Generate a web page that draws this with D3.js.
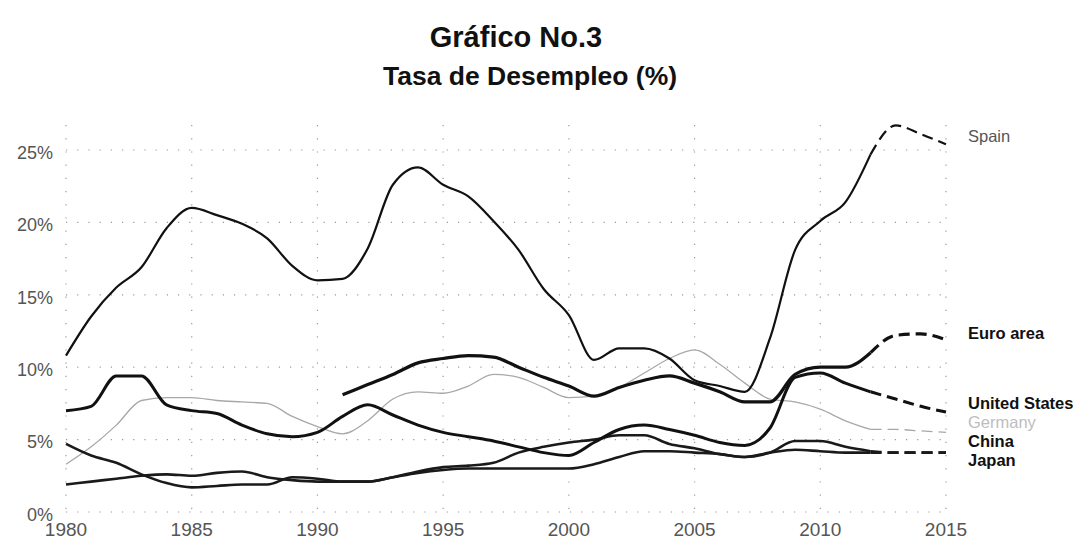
<!DOCTYPE html>
<html>
<head>
<meta charset="utf-8">
<script src="https://cdn.jsdelivr.net/npm/d3@7"></script>
<style>
  body { margin: 0; background: #fff; }
  svg { display: block; font-family: "Liberation Sans", Arial, sans-serif; }
</style>
</head>
<body>
<div id="chart"></div>
<script>
// Years 1980-2015, unemployment rate (%)
const years = d3.range(1980, 2016);
const spain = [10.8, 13.5, 15.5, 16.9, 19.6, 21.0, 20.5, 19.9, 18.9, 17.0, 16.0, 16.1, 18.2, 22.6, 23.8, 22.6, 21.8, 20.1, 18.1, 15.4,
               13.6, 10.5, 11.3, 11.3, 10.6, 9.1, 8.7, 8.3, 12.0, 18.1, 20.1, 21.4, 24.7, 26.7, 26.1, 25.4];
const euroArea = [null, null, null, null, null, null, null, null, null, null, null,
                  8.1, 8.8, 9.5, 10.3, 10.6, 10.8, 10.7, 10.0, 9.3,
                  8.7, 8.0, 8.6, 9.1, 9.4, 8.9, 8.3, 7.6, 7.6, 9.5, 10.0, 10.0, 11.0, 12.2, 12.3, 11.9];
const unitedStates = [7.0, 7.3, 9.4, 9.4, 7.4, 7.0, 6.8, 6.0, 5.4, 5.2, 5.5, 6.6, 7.4, 6.7, 6.0, 5.5, 5.2, 4.9, 4.5, 4.1,
                      3.9, 4.8, 5.7, 6.0, 5.7, 5.3, 4.8, 4.6, 5.8, 9.3, 9.6, 8.9, 8.3, 7.8, 7.3, 6.9];
const germany = [3.3, 4.5, 6.0, 7.7, 7.9, 7.9, 7.7, 7.6, 7.5, 6.6, 5.9, 5.4, 6.3, 7.8, 8.3, 8.2, 8.7, 9.5, 9.3, 8.6,
                 7.9, 8.0, 8.6, 9.6, 10.6, 11.2, 10.2, 8.9, 7.8, 7.6, 7.1, 6.3, 5.7, 5.7, 5.6, 5.5];
const china = [4.7, 3.9, 3.4, 2.6, 2.0, 1.7, 1.8, 1.9, 1.9, 2.4, 2.3, 2.1, 2.1, 2.4, 2.7, 2.9, 3.0, 3.0, 3.0, 3.0,
               3.0, 3.3, 3.8, 4.2, 4.2, 4.1, 4.0, 3.8, 4.1, 4.3, 4.2, 4.1, 4.1, 4.1, 4.1, 4.1];
const japan = [1.9, 2.1, 2.3, 2.5, 2.6, 2.5, 2.7, 2.8, 2.4, 2.2, 2.1, 2.1, 2.1, 2.4, 2.8, 3.1, 3.2, 3.4, 4.1, 4.5,
               4.8, 5.0, 5.3, 5.3, 4.7, 4.4, 4.0, 3.8, 4.1, 4.9, 4.9, 4.5, 4.2, 4.1, 4.1, 4.1];

const xTicks = [1980, 1985, 1990, 1995, 2000, 2005, 2010, 2015];
const yTicks = [0, 5, 10, 15, 20, 25];
const projectionStart = 2012;

const series = [
  { name: "Germany", values: germany, color: "#a8a8a8", width: 1.3, labelY: 424, labelColor: "#bdbdbd", bold: false },
  { name: "China", values: china, color: "#1a1a1a", width: 2.6, labelY: 443, labelColor: "#111", bold: true },
  { name: "Japan", values: japan, color: "#1a1a1a", width: 2.6, labelY: 462, labelColor: "#111", bold: true },
  { name: "United States", values: unitedStates, color: "#111", width: 3, labelY: 405, labelColor: "#111", bold: true },
  { name: "Euro area", values: euroArea, color: "#111", width: 3.2, labelY: 335, labelColor: "#111", bold: true },
  { name: "Spain", values: spain, color: "#111", width: 2.2, labelY: 138, labelColor: "#555", bold: false }
];

const W = 1091, H = 542;
const svg = d3.select("#chart").append("svg")
  .attr("width", W)
  .attr("height", H);

svg.append("rect").attr("width", W).attr("height", H).attr("fill", "#fff");

const x = d3.scaleLinear().domain([1980, 2015]).range([66, 946]);
const y = d3.scaleLinear().domain([0, 25]).range([512, 150]);

// Titles
svg.append("text")
  .attr("x", 516).attr("y", 47)
  .attr("text-anchor", "middle")
  .style("font-weight", "bold").style("font-size", "29px").attr("fill", "#111")
  .text("Gráfico No.3");

svg.append("text")
  .attr("x", 530).attr("y", 85)
  .attr("text-anchor", "middle")
  .style("font-weight", "bold").style("font-size", "26.5px").attr("fill", "#111")
  .text("Tasa de Desempleo (%)");

// Dotted grid
const grid = svg.append("g");
grid.selectAll(".hgrid")
  .data(yTicks)
  .join("line")
  .attr("x1", x(1980)).attr("x2", x(2015) + 2)
  .attr("y1", d => y(d)).attr("y2", d => y(d))
  .attr("stroke", "#9a9a9a").attr("stroke-width", 1.2)
  .attr("stroke-dasharray", "1.2,10");

grid.selectAll(".vgrid")
  .data(xTicks)
  .join("line")
  .attr("x1", d => x(d)).attr("x2", d => x(d))
  .attr("y1", 125).attr("y2", y(0))
  .attr("stroke", "#9a9a9a").attr("stroke-width", 1.2)
  .attr("stroke-dasharray", "1.2,12");

// Axis labels
svg.append("g").selectAll("text")
  .data(yTicks)
  .join("text")
  .attr("x", 53).attr("y", d => y(d) + 4)
  .attr("text-anchor", "end")
  .attr("dominant-baseline", "middle")
  .style("font-size", "18px").attr("fill", "#555")
  .text(d => d + "%");

svg.append("g").selectAll("text")
  .data(xTicks)
  .join("text")
  .attr("x", d => x(d)).attr("y", 536)
  .attr("text-anchor", "middle")
  .style("font-size", "19px").attr("fill", "#555")
  .text(d => d);

// Lines: solid history, dashed projection from 2012
const line = d3.line()
  .defined(d => d.v != null)
  .x(d => x(d.year))
  .y(d => y(d.v))
  .curve(d3.curveMonotoneX);

const lines = svg.append("g");
series.forEach(s => {
  const pts = years.map((yr, i) => ({ year: yr, v: s.values[i] }));
  lines.append("path")
    .datum(pts.filter(d => d.year <= projectionStart))
    .attr("fill", "none")
    .attr("stroke", s.color)
    .attr("stroke-width", s.width)
    .attr("stroke-linejoin", "round")
    .attr("d", line);
  lines.append("path")
    .datum(pts.filter(d => d.year >= projectionStart))
    .attr("fill", "none")
    .attr("stroke", s.color)
    .attr("stroke-width", s.width)
    .attr("stroke-dasharray", "11,6")
    .attr("d", line);
});

// Series labels at the right
svg.append("g").selectAll("text")
  .data(series)
  .join("text")
  .attr("x", 968).attr("y", d => d.labelY)
  .attr("dominant-baseline", "middle")
  .style("font-size", "16.5px")
  .style("font-weight", d => d.bold ? "bold" : "normal")
  .attr("fill", d => d.labelColor)
  .text(d => d.name);
</script>
</body>
</html>
